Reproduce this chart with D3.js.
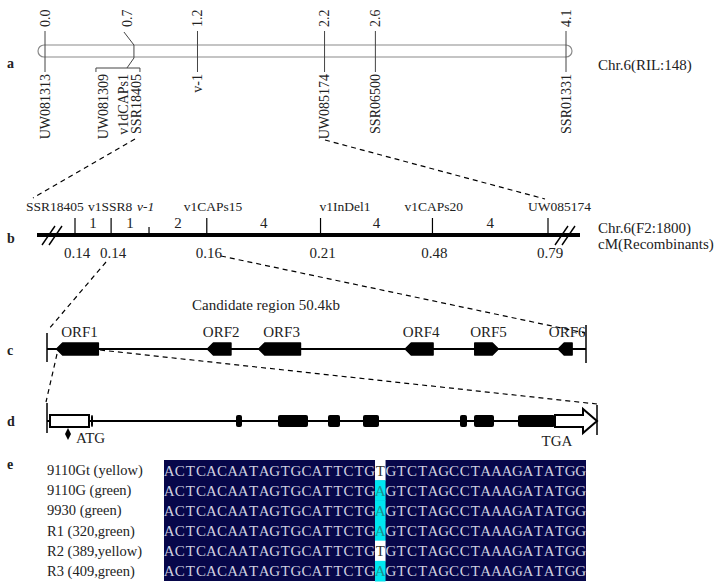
<!DOCTYPE html>
<html><head><meta charset="utf-8">
<script src="https://cdn.jsdelivr.net/npm/d3@7"></script>
<style>body{margin:0;background:#fff}svg{display:block}text{font-family:"Liberation Serif","Times New Roman",serif;fill:#222}</style>
</head><body>
<script>
// ---------- DATA ----------
// panel a: RIL map (cM)
const aPositions = [0.0, 0.7, 1.2, 2.2, 2.6, 4.1];
const aTopLabels = ["0.0", "0.7", "1.2", "2.2", "2.6", "4.1"];
const aMarkers = [["UW081313"], ["UW081309", "v1dCAPs1", "SSR18405"], ["v-1"], ["UW085174"], ["SSR06500"], ["SSR01331"]];
// panel b: fine map (F2:1800)
const bMarkers = ["SSR18405", "v1SSR8", "v-1", "v1CAPs15", "v1InDel1", "v1CAPs20", "UW085174"];
const bMapPos = [0, 1, 2.05, 3.65, 6.8, 9.9, 13.1];
const bCM = ["0.14", "0.14", "", "0.16", "0.21", "0.48", "0.79"];
const bRecomb = [1, 1, 2, 4, 4, 4];
// panel c: candidate region (kb)
const regionKb = 50.4;
const orfNames = ["ORF1", "ORF2", "ORF3", "ORF4", "ORF5", "ORF6"];
const orfStart = [0.9, 15.0, 19.8, 33.5, 40.0, 47.8];
const orfEnd = [4.8, 17.2, 23.7, 36.1, 42.2, 49.1];
const orfStrand = [-1, -1, -1, -1, 1, -1];
// panel d: gene structure (bp)
const geneLen = 5500;
const utr5 = [30, 420];
const exonStart = [440, 1890, 2310, 2810, 3160, 4130, 4270, 4710];
const exonEnd = [460, 1950, 2610, 2930, 3320, 4200, 4470, 5080];
const utr3 = [5080, 5500];
// panel e: alignment
const seqNames = ["9110Gt (yellow)", "9110G (green)", "9930 (green)", "R1 (320,green)", "R2 (389,yellow)", "R3 (409,green)"];
const seqLeft = "ACTCACAATAGTGCATTCTG";
const seqSnp = ["T", "A", "A", "A", "T", "A"];
const seqRight = "GTCTAGCCTAAAGATATGG";

// ---------- DRAW ----------
const W = 717, H = 586;
const svg = d3.select("body").append("svg").attr("width", W).attr("height", H);

// panel letters
const letters = [["a", 68], ["b", 243], ["c", 355], ["d", 426], ["e", 469]];
svg.selectAll("text.pl").data(letters).join("text").attr("class", "pl")
  .attr("x", 7).attr("y", d => d[1]).attr("font-size", 14).attr("font-weight", "bold").text(d => d[0]);

// ----- a -----
const xa = d3.scaleLinear().domain([0, 4.1]).range([45, 566]);
svg.append("rect").attr("x", xa(0) - 7).attr("y", 45).attr("width", xa(4.1) - xa(0) + 13).attr("height", 12)
  .attr("rx", 6).attr("fill", "none").attr("stroke", "#8a8a8a").attr("stroke-width", 1.2);
aPositions.forEach((p, i) => {
  const x = xa(p);
  if (i === 1) {
    svg.append("path").attr("d", `M${x - 10},32 L${x},45 L${x},58 L${x - 7},68 M${x - 38},68 L${x + 6},68 M${x - 38},68 L${x - 38},72 M${x + 6},68 L${x + 6},72`)
      .attr("fill", "none").attr("stroke", "#444").attr("stroke-width", 1);
  } else {
    svg.append("line").attr("x1", x).attr("x2", x).attr("y1", 31).attr("y2", 72).attr("stroke", "#444").attr("stroke-width", 1);
  }
  const tx = i === 1 ? x - 6 : x;
  svg.append("text").attr("transform", `translate(${tx},27) rotate(-90)`).attr("dominant-baseline", "central")
    .attr("font-size", 14).text(aTopLabels[i]);
  const names = aMarkers[i];
  const offs = names.length === 3 ? [-30, -10, 3] : [0];
  names.forEach((n, j) => {
    svg.append("text").attr("transform", `translate(${x + offs[j]},74) rotate(-90)`).attr("dominant-baseline", "central")
      .attr("text-anchor", "end").attr("font-size", 14).text(n);
  });
});
svg.append("text").attr("x", 598).attr("y", 70).attr("font-size", 15).text("Chr.6(RIL:148)");

// ----- b -----
const xb = d3.scaleLinear().domain([0, 13.1]).range([75, 548]);
const yb = 235;
svg.append("line").attr("x1", 37).attr("x2", 580).attr("y1", yb).attr("y2", yb).attr("stroke", "#000").attr("stroke-width", 4);
const slash = (x0) => [0, 7].forEach(o => svg.append("line").attr("x1", x0 + o).attr("y1", yb + 10).attr("x2", x0 + o + 13).attr("y2", yb - 9)
  .attr("stroke", "#000").attr("stroke-width", 1.4));
slash(42); slash(555);
const bLabelDx = [-49, -23, -12, -23, -1, -28, -20];
bMarkers.forEach((m, i) => {
  const x = xb(bMapPos[i]);
  const small = m === "v-1";
  svg.append("line").attr("x1", x).attr("x2", x).attr("y1", small ? 227 : 218).attr("y2", yb).attr("stroke", "#000").attr("stroke-width", 1.2);
  svg.append("text").attr("x", x + bLabelDx[i]).attr("y", 211).attr("font-size", 13.5)
    .attr("font-style", small ? "italic" : "normal").text(m);
  if (bCM[i]) svg.append("text").attr("x", x + 2).attr("y", 258).attr("text-anchor", "middle").attr("font-size", 15).text(bCM[i]);
});
bRecomb.forEach((r, i) => {
  const x = (xb(bMapPos[i]) + xb(bMapPos[i + 1])) / 2;
  svg.append("text").attr("x", x).attr("y", 228).attr("text-anchor", "middle").attr("font-size", 15).text(r);
});
svg.append("text").attr("x", 598).attr("y", 233).attr("font-size", 15).text("Chr.6(F2:1800)");
svg.append("text").attr("x", 598).attr("y", 249).attr("font-size", 15).text("cM(Recombinants)");

// ----- c -----
const xc = d3.scaleLinear().domain([0, regionKb]).range([47, 586]);
const yc = 349;
svg.append("line").attr("x1", xc(0)).attr("x2", xc(regionKb)).attr("y1", yc).attr("y2", yc).attr("stroke", "#000").attr("stroke-width", 1.8);
svg.append("line").attr("x1", xc(0)).attr("x2", xc(0)).attr("y1", 333).attr("y2", 362).attr("stroke", "#000").attr("stroke-width", 1.5);
svg.append("line").attr("x1", xc(regionKb)).attr("x2", xc(regionKb)).attr("y1", 325).attr("y2", 363).attr("stroke", "#000").attr("stroke-width", 1.5);
orfNames.forEach((n, i) => {
  const a = xc(orfStart[i]), b = xc(orfEnd[i]), h = 6, tip = 6;
  const d = orfStrand[i] < 0
    ? `M${a},${yc} L${a + tip},${yc - h} L${b},${yc - h} L${b},${yc + h} L${a + tip},${yc + h} Z`
    : `M${b},${yc} L${b - tip},${yc - h} L${a},${yc - h} L${a},${yc + h} L${b - tip},${yc + h} Z`;
  svg.append("path").attr("d", d).attr("fill", "#000").attr("stroke", "#000").attr("stroke-linejoin", "round").attr("stroke-width", 1.5);
  svg.append("text").attr("x", (a + b) / 2 + 2).attr("y", 337).attr("text-anchor", "middle").attr("font-size", 15).text(n);
});
svg.append("text").attr("x", 266).attr("y", 310).attr("text-anchor", "middle").attr("font-size", 15).text("Candidate region 50.4kb");

// ----- d -----
const xd = d3.scaleLinear().domain([0, geneLen]).range([47, 597]);
const yd = 421;
svg.append("line").attr("x1", xd(0)).attr("x2", xd(utr3[0])).attr("y1", yd).attr("y2", yd).attr("stroke", "#000").attr("stroke-width", 1.8);
svg.append("line").attr("x1", xd(0)).attr("x2", xd(0)).attr("y1", 403).attr("y2", 433).attr("stroke", "#000").attr("stroke-width", 1.5);
svg.append("line").attr("x1", xd(geneLen)).attr("x2", xd(geneLen)).attr("y1", 405).attr("y2", 435).attr("stroke", "#000").attr("stroke-width", 1.5);
svg.append("rect").attr("x", xd(utr5[0])).attr("y", yd - 6).attr("width", xd(utr5[1]) - xd(utr5[0])).attr("height", 12)
  .attr("fill", "#fff").attr("stroke", "#000").attr("stroke-width", 2);
exonStart.forEach((s, i) => {
  svg.append("rect").attr("x", xd(s)).attr("y", yd - 6).attr("width", xd(exonEnd[i]) - xd(s)).attr("height", 12)
    .attr("rx", 2).attr("fill", "#000");
});
{
  const a = xd(utr3[0]), b = xd(utr3[1]);
  svg.append("path").attr("d", `M${a},${yd - 6} L${b - 14},${yd - 6} L${b - 14},${yd - 12} L${b},${yd} L${b - 14},${yd + 12} L${b - 14},${yd + 6} L${a},${yd + 6} Z`)
    .attr("fill", "#fff").attr("stroke", "#000").attr("stroke-width", 2).attr("stroke-linejoin", "miter");
}
svg.append("path").attr("d", `M${xd(210)},428 L${xd(210) + 3},434 L${xd(210)},440 L${xd(210) - 3},434 Z`).attr("fill", "#000");
svg.append("text").attr("x", xd(290)).attr("y", 443).attr("font-size", 15).text("ATG");
svg.append("text").attr("x", xd(5100)).attr("y", 446).attr("text-anchor", "middle").attr("font-size", 15).text("TGA");

// ----- dashed connectors -----
const dashes = [[135, 139, 33, 198], [325, 140, 545, 199], [106, 262, 48, 330], [221, 256, 585, 333], [57, 354, 46, 402], [100, 350, 597, 404]];
svg.selectAll("line.dash").data(dashes).join("line").attr("class", "dash")
  .attr("x1", d => d[0]).attr("y1", d => d[1]).attr("x2", d => d[2]).attr("y2", d => d[3])
  .attr("stroke", "#000").attr("stroke-width", 1.2).attr("stroke-dasharray", "5,4");

// ----- e -----
const rowY = d3.scaleBand().domain(d3.range(seqNames.length)).range([460, 581]);
const nL = seqLeft.length, nR = seqRight.length, nAll = nL + 1 + nR;
const colX = d3.scaleBand().domain(d3.range(nAll)).range([164, 586]);
svg.append("rect").attr("x", 164).attr("y", 460).attr("width", 422).attr("height", 121).attr("fill", "#07074a");
seqNames.forEach((n, r) => {
  const y0 = rowY(r), bh = rowY.bandwidth();
  svg.append("text").attr("x", 47).attr("y", y0 + bh / 2 + 5).attr("font-size", 14.5).text(n);
  const full = seqLeft + seqSnp[r] + seqRight;
  const snpT = seqSnp[r] === "T";
  svg.append("rect").attr("x", colX(nL)).attr("y", y0).attr("width", colX.bandwidth()).attr("height", bh + 0.5)
    .attr("fill", snpT ? "#ffffff" : "#00e6f0");
  full.split("").forEach((ch, c) => {
    const isSnp = c === nL;
    svg.append("text").attr("x", colX(c) + colX.bandwidth() / 2).attr("y", y0 + bh / 2 + 5.5)
      .attr("text-anchor", "middle").attr("font-size", 15)
      .style("fill", isSnp ? (snpT ? "#333" : "#1f8f8f") : "#cfd0e0").text(ch);
  });
});
</script>
</body></html>
